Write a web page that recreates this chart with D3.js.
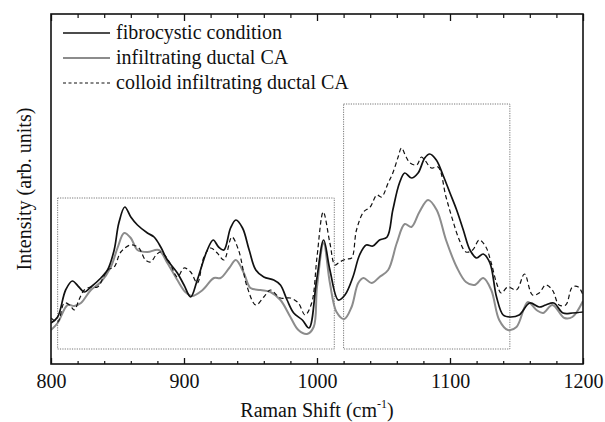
<!DOCTYPE html>
<html><head><meta charset="utf-8">
<script src="https://cdn.jsdelivr.net/npm/d3@7"></script>
<style>body{margin:0;background:#fff}svg{display:block}svg text{fill:#111}</style>
</head><body><svg id="c" width="605" height="422"></svg>
<script>
// Raman shift (cm-1) and intensity (arb. units)
const fibroX = [800,805,811,816,821,825,830,837.5,842.5,847.5,851,855.5,860,865,872.5,877.5,882.5,887.5,895,900,905,910,917.5,922,926,930,935,939,944,949,954,960,967.5,972.5,977.5,982.5,989,994,999.7,1005,1009.7,1016,1021,1027,1032,1037,1042,1047,1052.7,1057,1062,1066,1071,1076,1081,1084.7,1089.7,1094.7,1100,1105,1110,1115,1120,1125,1130,1135,1140,1145,1152,1160,1167,1172,1178,1185,1192,1200];
const fibroY = [41,47,74,83,77,72,77,86,94,114,141,157,147,139,131,127,117,104,91,79,67,84,114,124,117,114,136,144,136,114,94,87,84,79,64,51,44,36,84,124,94,64,69,87,109,119,118,124,127,154,181,191,186,191,206,210,204,189,171,154,134,114,106,110,101,67,49,47,49,61,57,59,61,51,51,52];
const infilX = [800,805,812.5,817.5,822.5,830,837.5,845,850,855,860,865,872.5,881,887.5,895,901,906,914,922.5,927.5,934,939,945,950,957.5,965,972.5,980,986,992.5,997.5,1000,1005,1009.7,1014.7,1020.5,1026,1031,1035,1041,1047,1053.5,1060,1066,1071,1077,1083.5,1090,1097,1105,1112,1118.5,1125,1131,1137,1143.5,1150,1158.5,1165,1170,1177,1186,1192,1200];
const infilY = [34,41,59,58,61,74,82,97,116,131,126,114,112,114,101,84,72,68,74,86,86,96,104,91,76,74,72,64,47,34,30,37,77,121,81,52,45,57,81,86,81,87,94,121,140,137,152,164,154,124,97,82,79,86,74,44,34,37,62,54,51,59,46,47,63];
const colloidX = [800,805,810,814,817.5,821,825,830,835,842.5,847.5,852.5,860,866,871,875,879,882.5,889,895,900,905,910,915,920,925,930,936,941,947.5,954,960,965,972.5,980,986,991,996,1000,1004.7,1009.7,1013.5,1017,1022,1026,1029.7,1035,1040,1045,1048.5,1053.5,1057,1061,1063.5,1067,1070,1075,1078.5,1081,1086,1091,1097,1102,1107,1112,1117,1122,1127,1131,1135,1138.5,1143.5,1150,1156,1162,1167,1172,1177,1182,1187,1192,1196.5,1200];
const colloidY = [46,42,61,59,54,64,74,77,77,94,97,112,119,116,104,102,109,112,102,87,96,92,81,107,116,111,104,127,114,77,59,67,74,66,66,61,49,61,107,152,121,99,102,105,106,134,152,157,169,167,181,191,207,216,207,201,199,207,204,196,197,167,144,124,112,114,124,117,101,81,71,77,74,90,69,71,79,74,59,59,77,77,69];
const boxes = [[805,1013,166],[1020,1145,260]]; // [x0, x1, top intensity]
const boxBottom = 15;
const legendLabels = ["fibrocystic condition","infiltrating ductal CA","colloid infiltrating ductal CA"];
const xMajor = [800,900,1000,1100,1200];

const FONT = "Tinos, 'Times New Roman', Times, 'Nimbus Roman', 'Noto Serif', 'Liberation Serif', 'DejaVu Serif', serif";
const svg = d3.select("#c");
const L=51,R=583,T=14,B=364;
const x = d3.scaleLinear().domain([800,1200]).range([L,R]);
const y = d3.scaleLinear().domain([0,350]).range([B,T]);

svg.append("defs").append("clipPath").attr("id","pc").append("rect")
  .attr("x",L).attr("y",T).attr("width",R-L).attr("height",B-T);

// dotted boxes
boxes.forEach(b=>{
  svg.append("rect").attr("x",x(b[0])).attr("y",y(b[2]))
    .attr("width",x(b[1])-x(b[0])).attr("height",y(boxBottom)-y(b[2]))
    .attr("fill","none").attr("stroke","#777").attr("stroke-width",1).attr("stroke-dasharray","1.2,1.2");
});

const line = d3.line().curve(d3.curveCatmullRom.alpha(0.5)).x(d=>x(d[0])).y(d=>y(d[1]));
const series = [
  {X:infilX,Y:infilY,stroke:"#8c8c8c",w:2,dash:null},
  {X:colloidX,Y:colloidY,stroke:"#111",w:1.2,dash:"4.5,3"},
  {X:fibroX,Y:fibroY,stroke:"#111",w:1.7,dash:null}
];
const g = svg.append("g").attr("clip-path","url(#pc)");
series.forEach(s=>{
  g.append("path").datum(d3.zip(s.X,s.Y)).attr("d",line)
   .attr("fill","none").attr("stroke",s.stroke).attr("stroke-width",s.w)
   .attr("stroke-dasharray",s.dash).attr("stroke-linejoin","round");
});

// axes
const minor = d3.range(800,1201,20).filter(v=>v%100!==0);
const bottom = d3.axisBottom(x).tickValues(xMajor).tickSize(-6).tickPadding(10).tickFormat(d3.format("d"));
const ga = svg.append("g").attr("transform",`translate(0,${B})`).call(bottom).attr("font-family",FONT);
ga.select(".domain").remove();
ga.selectAll("line").attr("stroke","#111").attr("stroke-width",1.3);
ga.selectAll("text").attr("font-size",20).attr("font-family",FONT).attr("fill","#111").attr("dy","0.71em");
const gm = svg.append("g").attr("transform",`translate(0,${B})`).call(d3.axisBottom(x).tickValues(minor).tickSize(-3).tickFormat(""));
gm.select(".domain").remove(); gm.selectAll("line").attr("stroke","#111").attr("stroke-width",1.2);
const gt = svg.append("g").attr("transform",`translate(0,${T})`).call(d3.axisTop(x).tickValues(xMajor).tickSize(-7).tickFormat(""));
gt.select(".domain").remove(); gt.selectAll("line").attr("stroke","#111").attr("stroke-width",1.3);
const gtm = svg.append("g").attr("transform",`translate(0,${T})`).call(d3.axisTop(x).tickValues(minor).tickSize(-4).tickFormat(""));
gtm.select(".domain").remove(); gtm.selectAll("line").attr("stroke","#111").attr("stroke-width",1.2);

svg.append("rect").attr("x",L).attr("y",T).attr("width",R-L).attr("height",B-T)
  .attr("fill","none").attr("stroke","#111").attr("stroke-width",1.6);

// axis titles
const xt = svg.append("text").attr("x",(L+R)/2).attr("y",417).attr("text-anchor","middle").attr("font-size",20).attr("font-family",FONT);
xt.append("tspan").text("Raman Shift (cm");
xt.append("tspan").text("-1").attr("font-size",12).attr("dy",-9);
xt.append("tspan").text(")").attr("dy",9);
svg.append("text").attr("transform",`translate(31,${(T+B)/2}) rotate(-90)`).attr("text-anchor","middle")
  .attr("font-size",20).attr("font-family",FONT).text("Intensity (arb. units)");

// legend
const legStyles = [{c:"#111",w:1.7,d:null},{c:"#8c8c8c",w:2,d:null},{c:"#111",w:1.1,d:"3,2.5"}];
legendLabels.forEach((t,i)=>{
  const yy = 33 + i*25;
  svg.append("line").attr("x1",63).attr("x2",110).attr("y1",yy).attr("y2",yy)
    .attr("stroke",legStyles[i].c).attr("stroke-width",legStyles[i].w).attr("stroke-dasharray",legStyles[i].d);
  svg.append("text").attr("x",116).attr("y",yy+6).attr("font-size",20).attr("font-family",FONT).text(t);
});
</script></body></html>
